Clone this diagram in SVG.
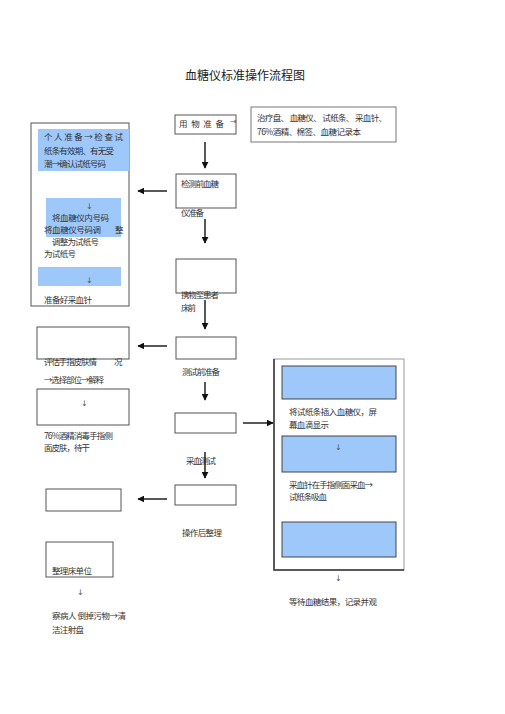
<svg xmlns="http://www.w3.org/2000/svg" width="505" height="714" viewBox="0 0 505 714">
<defs>
<style>
text{font-family:"Noto Sans CJK SC","Noto Sans CJK JP",sans-serif;font-size:8.5px;fill:#333}
.t{font-size:12px;fill:#222}
.box{fill:#fff;stroke:#555;stroke-width:1}
.blue{fill:#9fc8fa;stroke:none}
.blueb{fill:#9fc8fa;stroke:#444;stroke-width:1}
.con{stroke:#111;stroke-width:1.4;fill:none;marker-end:url(#ah)}
.sm{font-family:"DejaVu Sans",sans-serif;font-size:8px;fill:#555}
</style>
<marker id="ah" viewBox="0 0 10 10" refX="9" refY="5" markerWidth="5" markerHeight="5" orient="auto">
<path d="M0,0 L10,5 L0,10 z" fill="#111"/>
</marker>
</defs>
<rect width="505" height="714" fill="#fff"/>
<text class="t" x="185" y="80" textLength="120">血糖仪标准操作流程图</text>

<g id="n-prepare">
<rect class="box" x="175" y="115" width="61" height="19"/>
<text x="179" y="127" textLength="45">用 物 准 备</text>
<text class="sm" x="230" y="124">→</text>
</g>
<g id="n-items">
<rect class="box" x="251" y="107" width="145" height="35" style="stroke:#777"/>
<text x="257" y="121" textLength="130">治疗盘、 血糖仪、 试纸条、 采血针、</text>
<text x="257" y="135" textLength="104">76%酒精、棉签、血糖记录本</text>
</g>
<g id="n-personal">
<rect class="box" x="31" y="123" width="98" height="183"/>
<rect class="blue" x="38" y="129" width="91" height="42"/>
<text x="44" y="140" textLength="79">个 人 准 备 → 检 查 试</text>
<text x="44" y="154" textLength="70">纸条有效期、有无受</text>
<text x="44" y="167" textLength="62">潮→确认试纸号码</text>
<rect class="blue" x="46" y="198" width="75" height="39"/>
<text class="sm" x="86" y="209">↓</text>
<text x="52" y="221" textLength="57">将血糖仪内号码</text>
<text x="44" y="233" textLength="57">将血糖仪号码调</text>
<text x="115" y="233">整</text>
<text x="52" y="245" textLength="47">调整为试纸号</text>
<text x="44" y="257" textLength="32">为试纸号</text>
<rect class="blue" x="38" y="267" width="83" height="19"/>
<text class="sm" x="86" y="283">↓</text>
<text x="44" y="303" textLength="48">准备好采血针</text>
</g>
<g id="n-check">
<rect class="box" x="176" y="174" width="60" height="34"/>
<text x="181" y="187" textLength="38">检测前血糖</text>
<text x="181" y="216" textLength="23">仪准备</text>
</g>
<g id="n-carry">
<rect class="box" x="176" y="259" width="60" height="34"/>
<text x="181" y="298" textLength="38">携物至患者</text>
<text x="181" y="311" textLength="15">床前</text>
</g>
<g id="n-pretest">
<rect class="box" x="176" y="337" width="60" height="22"/>
<text x="182" y="375" textLength="38">测试前准备</text>
</g>
<g id="n-assess">
<rect class="box" x="37" y="327" width="92" height="32"/>
<text x="44" y="365" textLength="53">评估手指皮肤情</text>
<text x="114" y="365">况</text>
<text x="44" y="383" textLength="60">→选择部位→解释</text>
</g>
<g id="n-disinfect">
<rect class="box" x="37" y="389" width="92" height="36"/>
<text class="sm" x="81" y="406">↓</text>
<text x="44" y="439" textLength="69">76%酒精消毒手指侧</text>
<text x="44" y="451" textLength="46">面皮肤，待干</text>
</g>
<g id="n-sample">
<rect class="box" x="175" y="413" width="61" height="20"/>
<text x="186" y="464" textLength="30">采血测试</text>
</g>
<g id="n-steps">
<rect class="box" x="274" y="359" width="130" height="211" style="stroke:#999"/>
<path d="M274,359 V570 H404" stroke="#333" stroke-width="1.5" fill="none"/>
<rect class="blueb" x="282" y="366" width="114" height="33"/>
<text x="289" y="415" textLength="88">将试纸条插入血糖仪，屏</text>
<text x="289" y="428" textLength="40">幕血滴显示</text>
<rect class="blueb" x="282" y="436" width="114" height="36"/>
<text class="sm" x="335" y="450">↓</text>
<text x="289" y="488" textLength="84">采血针在手指侧面采血→</text>
<text x="289" y="500" textLength="38">试纸条吸血</text>
<rect class="blueb" x="282" y="522" width="114" height="35"/>
<text class="sm" x="335" y="581">↓</text>
<text x="289" y="605" textLength="88">等待血糖结果，记录并观</text>
</g>
<g id="n-after">
<rect class="box" x="175" y="485" width="61" height="20"/>
<text x="182" y="536" textLength="40">操作后整理</text>
</g>
<g id="n-blank">
<rect class="box" x="46" y="489" width="75" height="22"/>
</g>
<g id="n-bed">
<rect class="box" x="46" y="542" width="67" height="35"/>
<text x="52" y="574" textLength="40">整理床单位</text>
<text class="sm" x="77" y="595">↓</text>
<text x="52" y="619" textLength="74">察病人 倒掉污物→清</text>
<text x="52" y="633" textLength="32">洁注射盘</text>
</g>

<g id="connectors">
<line class="con" x1="205" y1="142" x2="205" y2="168"/>
<line class="con" x1="167" y1="191" x2="138" y2="191"/>
<line class="con" x1="205" y1="219" x2="205" y2="243"/>
<line class="con" x1="205" y1="300" x2="205" y2="329"/>
<line class="con" x1="167" y1="346" x2="138" y2="346"/>
<line class="con" x1="205" y1="382" x2="205" y2="400"/>
<line class="con" x1="243" y1="423" x2="273" y2="423"/>
<line class="con" x1="205" y1="452" x2="205" y2="478"/>
<line class="con" x1="167" y1="499" x2="138" y2="499"/>
</g>
</svg>
